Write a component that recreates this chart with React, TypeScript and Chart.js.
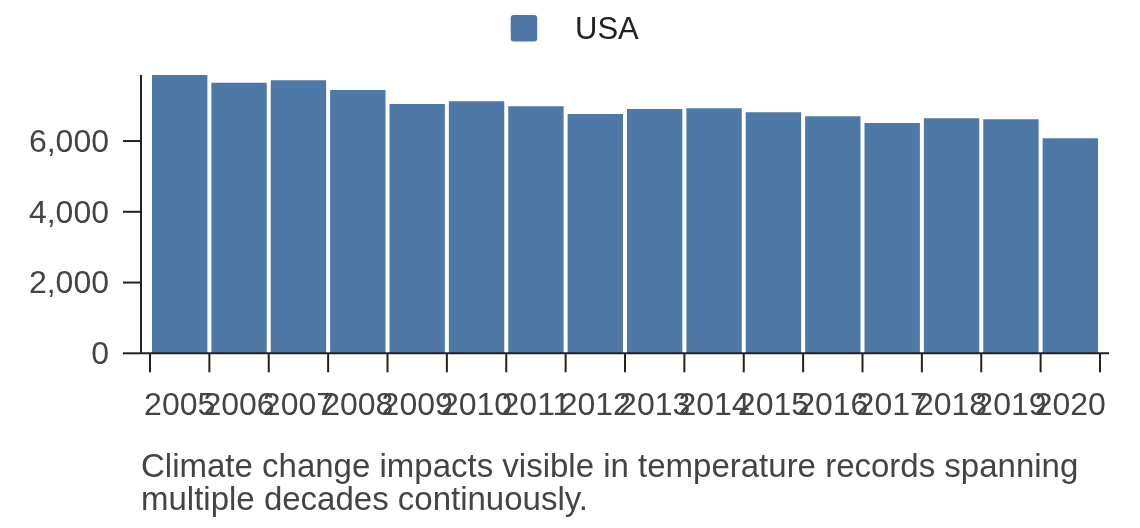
import React, { useEffect, useRef } from "react";
import { Chart, registerables } from "chart.js";

Chart.register(...registerables);

const years = ["2005", "2006", "2007", "2008", "2009", "2010", "2011", "2012", "2013", "2014", "2015", "2016", "2017", "2018", "2019", "2020"];
const usaValues = [7867, 7650, 7718, 7443, 7048, 7124, 6983, 6765, 6906, 6926, 6813, 6700, 6511, 6643, 6615, 6078];
const yTickValues = [0, 2000, 4000, 6000];
const seriesLabel = "USA";
const caption = "Climate change impacts visible in temperature records spanning multiple decades continuously.";

const FONT = "'Liberation Sans', Arial, Helvetica, sans-serif";
const BAR_COLOR = "#4e79a7";
const TEXT_COLOR = "#444";
const AXIS_COLOR = "#222";

const decorPlugin = {
  id: "decor",
  afterDraw(chart: any) {
    const { ctx, chartArea, scales } = chart;
    const x = scales.x;
    const y = scales.y;
    const inset = 9;
    const tickLen = 18;
    const axisX = chartArea.left - inset;
    const axisY = chartArea.bottom;
    ctx.save();
    ctx.strokeStyle = AXIS_COLOR;
    ctx.lineWidth = 2;
    ctx.beginPath();
    ctx.moveTo(axisX, chartArea.top);
    ctx.lineTo(axisX, axisY);
    ctx.stroke();
    ctx.beginPath();
    ctx.moveTo(axisX, axisY);
    ctx.lineTo(chartArea.right + inset, axisY);
    ctx.stroke();
    yTickValues.forEach((v) => {
      const py = y.getPixelForValue(v);
      ctx.beginPath();
      ctx.moveTo(axisX - tickLen, py);
      ctx.lineTo(axisX, py);
      ctx.stroke();
    });
    const band = x.getPixelForValue(1) - x.getPixelForValue(0);
    for (let i = 0; i <= years.length; i++) {
      const px = x.getPixelForValue(0) - band / 2 + i * band;
      ctx.beginPath();
      ctx.moveTo(px, axisY);
      ctx.lineTo(px, axisY + tickLen + 1);
      ctx.stroke();
    }
    const boxX = 502.7;
    const boxY = 7;
    const boxS = 26.5;
    ctx.fillStyle = chart.data.datasets[0].backgroundColor;
    ctx.beginPath();
    if (ctx.roundRect) {
      ctx.roundRect(boxX, boxY, boxS, boxS, 3);
    } else {
      ctx.rect(boxX, boxY, boxS, boxS);
    }
    ctx.fill();
    ctx.fillStyle = "#222";
    ctx.font = `31px ${FONT}`;
    ctx.textBaseline = "alphabetic";
    ctx.textAlign = "left";
    ctx.fillText(chart.data.datasets[0].label, 567, 31.3);
    ctx.restore();
  },
};

export default function App() {
  const canvasRef = useRef<HTMLCanvasElement | null>(null);

  useEffect(() => {
    if (!canvasRef.current) return;
    const chart = new Chart(canvasRef.current, {
      type: "bar",
      data: {
        labels: years,
        datasets: [
          {
            label: seriesLabel,
            data: usaValues,
            backgroundColor: BAR_COLOR,
            borderWidth: 0,
            barPercentage: 0.933,
            categoryPercentage: 1,
          },
        ],
      },
      options: {
        animation: false,
        responsive: false,
        devicePixelRatio: 1,
        layout: { padding: { top: 67, right: 32, left: 0, bottom: 0 } },
        plugins: {
          legend: { display: false },
          title: { display: false },
          tooltip: { enabled: false },
        },
        scales: {
          x: {
            offset: true,
            grid: { display: false, drawTicks: false },
            border: { display: false },
            ticks: {
              color: TEXT_COLOR,
              font: { family: FONT, size: 32 },
              padding: 34,
              maxRotation: 0,
              minRotation: 0,
              autoSkip: false,
            },
            afterFit: (scale: any) => {
              scale.height = 166.7;
              scale.paddingLeft = 0;
              scale.paddingRight = 0;
            },
          },
          y: {
            min: 0,
            max: Math.max(...usaValues),
            grid: { display: false, drawTicks: false },
            border: { display: false },
            ticks: {
              color: TEXT_COLOR,
              font: { family: FONT, size: 32 },
              padding: 41,
              labelOffset: 2,
            },
            afterBuildTicks: (scale: any) => {
              scale.ticks = yTickValues.map((v) => ({ value: v }));
            },
            afterFit: (scale: any) => {
              scale.width = 142;
              scale.paddingTop = 0;
              scale.paddingBottom = 0;
            },
          },
        },
      },
      plugins: [decorPlugin],
    });
    return () => chart.destroy();
  }, []);

  return (
    <div style={{ position: "relative", width: 1124, height: 512 }}>
      <canvas ref={canvasRef} width={1124} height={512} style={{ display: "block" }} />
      <div
        style={{
          position: "absolute",
          left: 133,
          top: 441,
          width: 980,
          fontFamily: FONT,
          fontSize: 33,
          lineHeight: "33px",
          color: TEXT_COLOR,
        }}
      >
        {caption}
      </div>
    </div>
  );
}
